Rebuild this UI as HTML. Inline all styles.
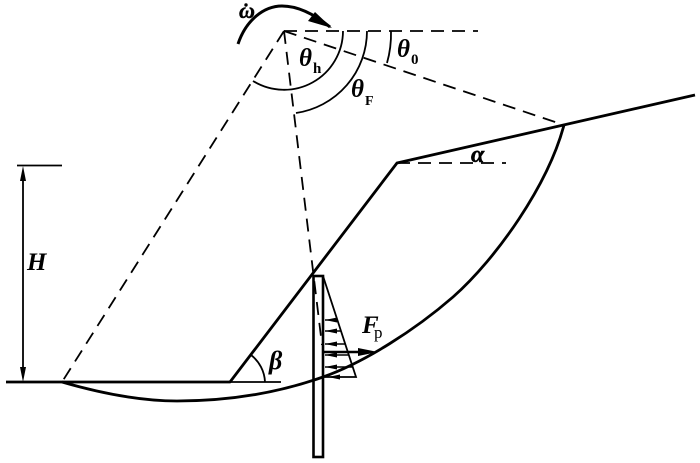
<!DOCTYPE html>
<html>
<head>
<meta charset="utf-8">
<style>
html,body{margin:0;padding:0;background:#fff;width:700px;height:463px;overflow:hidden}
svg{display:block}
text{font-family:"Liberation Serif",serif;fill:#000}
.g{font-weight:bold;font-style:italic}
</style>
</head>
<body>
<svg width="700" height="463" viewBox="0 0 700 463" xmlns="http://www.w3.org/2000/svg" fill="none" stroke="#000">
<!-- dashed lines -->
<g stroke-width="1.8" stroke-dasharray="13 8">
<path d="M284 31H478"/>
<path d="M284 31L564 125"/>
<path d="M284 31L62 382"/>
<path d="M284 31L322 345"/>
<path d="M397 163H506"/>
</g>
<!-- ground -->
<path d="M6 382H230L397 163L695 95" stroke-width="2.8" stroke-linejoin="round"/>
<path d="M230 382H281" stroke-width="1.8"/>
<!-- slip surface -->
<path d="M62 382C100 393 140 401 177 401C225 401 275 394 323 377C365 362 415 330 453 297C497 258 548 185 564 125" stroke-width="2.8"/>
<!-- H dimension -->
<path d="M17 165.500H62" stroke-width="1.8"/>
<path d="M23 172V376" stroke-width="1.8"/>
<path d="M23 166L20 181H26Z M23 382L20 367H26Z" fill="#000" stroke="none"/>
<!-- angle arcs -->
<g stroke-width="1.8">
<path d="M343 31A59 59 0 0 1 253 81"/>
<path d="M367 31A83 83 0 0 1 296 113"/>
<path d="M391 31A107 107 0 0 1 387 63"/>
<path d="M265 382A36 36 0 0 0 251 355"/>
</g>
<!-- omega arrow -->
<path d="M238 44C246 20 264 6 282 6C298 6 314 14 330 27" stroke-width="3"/>
<path d="M332 28L315 12L308 21Z" fill="#000" stroke="none"/>
<!-- pile -->
<rect x="313.500" y="276" width="9.500" height="181" stroke-width="2.6" fill="none"/>
<path d="M323 276L356 377H325" stroke-width="1.8"/>
<!-- distributed arrows -->
<g stroke-width="1.5">
<path d="M325 320H338M325 331H341M325 344H345M325 355H349M325 367H352"/>
</g>
<path d="M325 320L337 317.500V322.500Z M325 331L337 328.500V333.500Z M325 344L337 341.500V346.500Z M325 355L337 352.500V357.500Z M325 367L337 364.500V369.500Z M328 377L340 374.500V379.500Z" fill="#000" stroke="none"/>
<!-- Fp arrow -->
<path d="M323 352H362" stroke-width="2.4"/>
<path d="M378 352L358 348V356Z" fill="#000" stroke="none"/>
<!-- labels -->
<g stroke="none">
<text x="239" y="18" class="g" font-size="22" stroke="#000" stroke-width=".5">ω</text>
<circle cx="246" cy="5" r="1.700" fill="#000"/>
<text x="299" y="66" class="g" font-size="25">θ</text>
<text x="313" y="73" font-size="15" font-weight="bold">h</text>
<text x="351" y="97" class="g" font-size="25">θ</text>
<text x="365" y="105" font-size="14" font-weight="bold">F</text>
<text x="397" y="57" class="g" font-size="25">θ</text>
<text x="411" y="64" font-size="15" font-weight="bold">0</text>
<text x="27" y="270" class="g" font-size="25">H</text>
<text x="471" y="162" class="g" font-size="24" stroke="#000" stroke-width=".5">α</text>
<text x="269" y="369" class="g" font-size="26">β</text>
<text x="362" y="333" class="g" font-size="25">F</text>
<text x="374" y="338" font-size="17">p</text>
</g>
</svg>
</body>
</html>
